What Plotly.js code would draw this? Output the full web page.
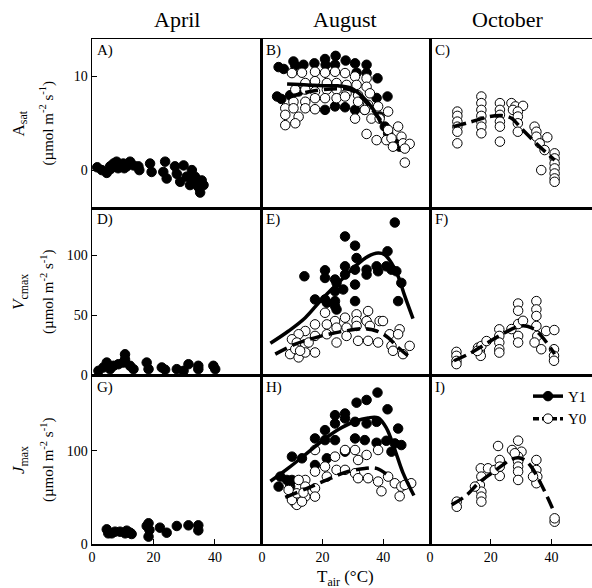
<!DOCTYPE html>
<html><head><meta charset="utf-8">
<script src="https://cdn.plot.ly/plotly-3.0.1.min.js"></script>
<style>html,body{margin:0;padding:0;background:#fff}#chart{width:592px;height:588px}
#chart text{font-family:"Liberation Serif","Times New Roman",Times,serif !important;}</style>
</head><body><div id="chart"></div>
<script>
// ---- labels ----
const months = ['April', 'August', 'October'];
const panelLabels = ['A)', 'B)', 'C)', 'D)', 'E)', 'F)', 'G)', 'H)', 'I)'];
const rowTitles = ['A<sub>sat</sub>', '<i>V</i><sub>cmax</sub>', '<i>J</i><sub>max</sub>'];
const unitTitle = '(µmol m<sup>-2</sup> s<sup>-1</sup>)';
const xTitle = 'T<sub>air</sub> (°C)';
const xTicks = [0, 20, 40];
const rowTicks = [[0, 10], [0, 50, 100], [0, 100]];

// ---- Panel A (April, Asat, Y1) ----
const A_Y1_x = [1.7,3.2,4.8,5.9,7.0,8.0,9.1,10.2,11.3,12.4,13.5,15.1,15.4,18.9,19.4,23.8,23.2,24.3,27.0,27.6,28.7,29.8,30.8,32.5,33.0,31.9,33.5,35.7,36.3,35.2,34.6,6.0,8.5,10.5];
const A_Y1_y = [0.3,0,-0.3,0.4,0.7,0.9,0.5,0.7,0.4,0.9,0.5,0.4,0,0.7,-0.2,0.9,-0.2,-0.9,0.4,-0.4,-1.25,0.5,-0.7,0,-1.1,-1.6,-0.7,-1.1,-1.6,-2.4,-1.8,0.1,0.2,0.2];

// ---- Panel B (August, Asat) ----
const B_Y1_x = [5.5,7.2,10.4,11.0,13.7,17.3,20.8,21.0,24.3,24.1,27.6,30.7,31.2,34.5,34.5,38.1,5.0,6.4,9.3,12.1,20.8,24.1,27.4,30.7,33.9,37.8,41.4,38.8,40.5,41.6,43.8,45.4];
const B_Y1_y = [11.0,10.8,11.6,11.15,11.25,11.4,11.86,11.25,12.2,11.25,11.7,11.4,10.4,11.25,10.36,9.8,7.86,7.6,8.0,8.4,6.43,6.8,6.71,6.43,6.43,7.7,7.86,5.72,4.65,3.93,2.86,2.5];
const B_Y0_x = [9.9,13.2,17.5,20.8,24.1,27.4,30.7,34.5,14.3,17.5,21.4,24.6,27.9,31.2,34.5,11.0,14.3,17.5,21.4,24.6,27.9,31.7,35.6,10.4,14.3,17.5,20.8,24.6,27.4,31.7,35.0,38.3,41.6,7.7,10.4,14.3,17.5,30.7,33.9,36.1,38.8,7.7,12.1,7.7,11.0,34.5,37.8,41.6,41.0,42.7,44.9,46.0,46.5,48.7,47.1,43.2,47.1];
const B_Y0_y = [10.36,10.4,10.5,10.4,10.5,10.36,10.0,9.8,9.3,9.5,9.3,9.3,9.1,9.1,8.9,8.6,8.6,8.4,8.6,8.6,8.2,8.0,8.2,7.3,7.3,7.68,7.68,7.68,7.86,7.3,6.97,6.8,6.25,6.6,6.6,6.6,6.5,5.5,6.43,5.5,5.5,5.9,5.7,4.8,5.0,3.86,3.2,4.29,3.2,3.4,4.65,3.57,2.86,2.8,2.3,2.5,0.8];
const B_Y1fit_x = [8.3,15,20,25,29,32,35,38,39.2];
const B_Y1fit_y = [9.2,9.1,9.0,9.0,8.8,8.2,7.2,5.8,5.0];
const B_Y0fit_x = [8.3,12,16,20,25,29,32,35,38,39.2];
const B_Y0fit_y = [7.7,8.1,8.4,8.6,8.7,8.6,8.0,7.0,5.8,5.3];

// ---- Panel C (October, Asat, Y0) ----
const C_Y0_x = [9,9,9,9,9,9,16.9,16.9,16.9,16.9,16.9,16.9,16.9,23,23,23,23,23,23,26.8,28.1,30.6,27.3,28.9,28.9,28.9,28.9,34.4,35.0,35.0,38.6,36.1,37.7,36.6,41,41,41,41,41,41,41];
const C_Y0_y = [6.25,5.79,5.18,4.64,4.1,2.86,7.86,7.15,6.43,5.79,5.18,4.64,3.93,7.15,6.43,5.9,5.18,4.64,3.04,7.15,6.8,6.86,6.43,6.25,5.72,5.0,4.1,4.64,4.1,3.57,3.5,2.86,2.14,0,1.79,1.25,0.71,0.18,-0.36,-0.89,-1.25];
const C_Y0fit_x = [7.65,12.6,19.7,23.5,26.8,30.0,35.5,41.0];
const C_Y0fit_y = [4.64,5.07,5.72,5.82,5.54,4.46,2.68,1.07];

// ---- Panel D (April, Vcmax, Y1) ----
const D_Y1_x = [2.1,3.7,4.8,5.9,7.0,8.6,10.2,10.75,10.75,12.4,13.5,17.8,18.4,22.7,23.8,27.6,29.8,31.4,34.6,34.6,39.5,40.1];
const D_Y1_y = [3.8,6.6,10.7,5.2,8.0,9.3,10.7,17.6,13.5,8.0,5.2,10.7,5.2,6.6,4.7,5.2,3.8,9.3,8.0,5.2,8.0,5.2];

// ---- Panel E (August, Vcmax) ----
const E_Y1_x = [43.8,27.4,30.7,31.2,14.0,20.8,20.8,24.1,24.6,27.4,27.4,30.7,34.5,34.5,37.8,38.3,41.4,41.0,42.7,44.3,45.95,24.1,26.8,30.7,17.5,20.8,21.4,24.1,24.6,30.7,44.9,24.1];
const E_Y1_y = [127.4,115.8,108.1,97.8,82.6,87.6,81.2,79.9,77.1,90.9,84.0,88.1,88.1,84.0,90.9,86.8,103.4,90.9,88.1,86.8,77.1,70.2,71.6,75.7,63.3,63.3,60.6,61.9,54.9,61.9,61.9,57.8];
const E_Y0_x = [20.8,24.1,27.4,31.2,35.0,31.2,34.5,38.8,39.9,17.5,21.4,24.6,27.9,31.2,35.6,14.3,12.1,9.9,11.5,14.3,17.5,21.4,24.6,27.9,31.7,35.0,38.3,42.1,45.4,44.9,42.7,48.7,46.5,43.2,9.3,12.1,14.3,17.5,11.0,12.6,15.4];
const E_Y0_y = [52.2,45.3,48.1,50.9,53.6,45.3,45.3,45.3,45.3,42.5,42.5,39.8,39.8,41.2,41.2,37.0,34.3,30.1,27.4,26.0,32.9,34.3,27.4,32.9,28.8,28.8,27.4,34.3,38.4,34.3,24.6,24.6,17.7,20.5,17.7,15.0,19.1,19.1,21.9,20.5,27.4];
const E_Y1fit_x = [2.8,8.8,14.3,19.7,26.3,30.7,35.0,38.3,40.5,42.7,44.9,47.1,49.8];
const E_Y1fit_y = [26.8,37.0,48.1,63.3,79.9,90.9,99.2,102.0,100.6,93.7,82.6,66.0,47.3];
const E_Y0fit_x = [4.4,11.0,19.7,27.4,33.9,37.8,41.6,44.9,48.2];
const E_Y0fit_y = [17.7,26.0,32.9,37.0,39.0,37.0,31.5,23.2,16.3];

// ---- Panel F (October, Vcmax, Y0) ----
const F_Y0_x = [8.7,8.7,8.7,8.7,15.8,16.4,16.7,16.9,18.6,15.6,22.8,22.8,22.8,22.8,22.8,29.0,29.0,29.0,29.0,29.0,30.6,26.8,35.0,35.0,35.0,35.0,35.3,34.4,36.6,38.2,40.9,40.8,40.8,40.8];
const F_Y0_y = [19.6,16.3,12.1,9.4,23.1,20.4,16.3,24.5,28.6,20.4,38.4,32.9,27.4,21.8,19.0,59.9,53.9,42.8,32.9,27.4,45.5,38.6,61.9,55.0,49.5,41.2,32.9,27.4,21.8,37.0,37.8,21.8,16.3,12.2];
const F_Y0fit_x = [7.9,12.6,19.1,24.6,30.0,33.3,36.6,41.0];
const F_Y0fit_y = [12.2,17.7,27.4,35.6,41.2,39.8,32.9,17.7];

// ---- Panel G (April, Jmax, Y1) ----
const G_Y1_x = [4.8,5.3,6.4,7.5,9.1,10.8,11.3,12.4,12.9,17.8,18.4,18.7,18.4,22.1,24.3,27.6,31.4,34.6,34.6];
const G_Y1_y = [15.7,11.4,11.4,13.2,13.2,11.4,14.3,12.1,10.7,19.3,22.2,15.0,7.9,17.5,12.1,19.3,20.0,20.0,14.6];

// ---- Panel H (August, Jmax) ----
const H_Y1_x = [38.1,34.5,31.2,41.4,27.4,24.1,24.1,27.4,30.7,34.5,37.8,20.8,17.5,20.8,24.1,30.7,33.9,37.8,41.0,44.9,43.8,45.95,42.7,17.5,21.4,27.4,9.9,13.2,6.1,8.25,9.9,5.5,9.3];
const H_Y1_y = [162.2,154.3,151.4,144.3,139.8,138.0,129.1,134.5,130.9,129.1,130.9,122.0,113.1,111.3,111.3,113.1,111.3,108.5,110.6,123.7,107.8,106.0,98.9,84.6,91.8,98.9,93.6,91.8,72.2,68.6,68.6,61.5,61.5];
const H_Y0_x = [17.5,24.1,27.4,30.7,34.5,38.3,31.7,17.5,20.8,21.4,24.6,27.4,30.7,31.7,35.0,38.3,41.6,43.8,45.95,49.2,47.1,39.4,45.4,14.3,12.1,14.3,17.5,17.5,14.3,12.1,11.0,11.5,13.2,9.9,11.5,8.8,13.7];
const H_Y0_y = [100.7,93.6,100.7,100.7,95.4,100.7,90.0,77.6,83.0,72.2,79.4,79.4,75.8,70.5,70.5,66.9,72.2,65.1,61.5,65.1,63.3,56.5,51.1,68.6,68.6,61.5,59.7,50.8,50.8,45.4,43.6,41.9,45.4,47.2,54.3,57.9,55.0];
const H_Y1fit_x = [2.8,8.8,14.3,19.7,25.2,30.7,35.0,38.3,41.0,43.8,46.5,50.1];
const H_Y1fit_y = [67.2,81.5,95.8,110.1,122.6,131.5,135.1,135.1,124.4,101.2,76.2,51.9];
const H_Y0fit_x = [7.7,14.3,20.8,27.4,33.9,37.8,41.0];
const H_Y0fit_y = [49.9,58.8,67.8,76.7,81.0,81.0,74.9];

// ---- Panel I (October, Jmax, Y0) ----
const I_Y0_x = [8.8,8.8,16.7,16.9,16.4,16.9,16.9,16.9,19.1,14.8,22.4,22.95,22.95,21.3,22.95,29.0,27.0,30.1,29.0,29.0,29.0,29.0,29.0,27.9,35.0,35.0,35.3,35.0,33.9,41.0,41.0];
const I_Y0_y = [45.4,39.9,81.1,72.2,63.3,56.1,50.8,45.4,81.1,61.5,105.0,90.0,72.9,79.3,82.9,110.7,100.7,98.9,93.6,88.3,82.9,77.6,68.6,97.2,90.0,79.3,72.2,65.1,72.2,23.9,27.5];
const I_Y0fit_x = [7.1,12.1,15.9,20.2,24.0,26.2,29.0,31.2,33.3,36.1,38.8,41.0];
const I_Y0fit_y = [41.9,52.5,65.1,75.8,84.7,90.0,92.5,90.0,82.9,66.9,49.0,32.9];

// ---- build ----
const FONT = '"Liberation Serif", "Times New Roman", Times, serif';
const colDom = [[0, 0.338], [0.338, 0.676], [0.676, 1]];
const colRange = [[0, 55], [-0.3, 55.4], [0, 53.3]];
const rowDom = [[0.6653, 1], [0.3327, 0.6653], [0, 0.3327]];
const rowRange = [[-4.05, 14], [-0.5, 139.5], [0, 180]];

function ax(p, k) { return p === 1 ? k : k + p; }
const traces = [];
function pts(p, x, y, filled) {
  traces.push({type: 'scatter', mode: 'markers', x: x, y: y, xaxis: ax(p, 'x'), yaxis: ax(p, 'y'), showlegend: false,
    marker: {size: 9.5, color: filled ? '#000' : '#fff', line: {color: '#000', width: 1}}, hoverinfo: 'skip'});
}
function fit(p, x, y, dashed) {
  traces.push({type: 'scatter', mode: 'lines', x: x, y: y, xaxis: ax(p, 'x'), yaxis: ax(p, 'y'), showlegend: false,
    line: {color: '#000', width: 3.5, shape: 'spline', smoothing: 1, dash: dashed ? '13px,6px' : 'solid'}, hoverinfo: 'skip'});
}
pts(1, A_Y1_x, A_Y1_y, true);
pts(2, B_Y1_x, B_Y1_y, true); pts(2, B_Y0_x, B_Y0_y, false);
fit(2, B_Y1fit_x, B_Y1fit_y, false); fit(2, B_Y0fit_x, B_Y0fit_y, true);
pts(3, C_Y0_x, C_Y0_y, false); fit(3, C_Y0fit_x, C_Y0fit_y, true);
pts(4, D_Y1_x, D_Y1_y, true);
pts(5, E_Y1_x, E_Y1_y, true); pts(5, E_Y0_x, E_Y0_y, false);
fit(5, E_Y1fit_x, E_Y1fit_y, false); fit(5, E_Y0fit_x, E_Y0fit_y, true);
pts(6, F_Y0_x, F_Y0_y, false); fit(6, F_Y0fit_x, F_Y0fit_y, true);
pts(7, G_Y1_x, G_Y1_y, true);
pts(8, H_Y1_x, H_Y1_y, true); pts(8, H_Y0_x, H_Y0_y, false);
fit(8, H_Y1fit_x, H_Y1fit_y, false); fit(8, H_Y0fit_x, H_Y0fit_y, true);
pts(9, I_Y0_x, I_Y0_y, false); fit(9, I_Y0fit_x, I_Y0fit_y, true);

// legend entries
traces.push({type: 'scatter', mode: 'lines+markers', name: 'Y1', x: [null], y: [null], xaxis: 'x9', yaxis: 'y9',
  marker: {size: 9.5, color: '#000', line: {color: '#000', width: 1}}, line: {color: '#000', width: 3.5}});
traces.push({type: 'scatter', mode: 'lines+markers', name: 'Y0', x: [null], y: [null], xaxis: 'x9', yaxis: 'y9',
  marker: {size: 9.5, color: '#fff', line: {color: '#000', width: 1}}, line: {color: '#000', width: 3.5, dash: '6px,3px'}});

const layout = {
  width: 592, height: 588, margin: {l: 92, r: 0, t: 39, b: 44},
  paper_bgcolor: '#fff', plot_bgcolor: '#fff',
  font: {family: FONT, size: 14, color: '#000'},
  showlegend: true,
  legend: {x: 0.872, y: 0.325, xanchor: 'left', yanchor: 'top', bgcolor: 'rgba(0,0,0,0)', font: {family: FONT, size: 15}, tracegroupgap: 0},
  annotations: []
};
for (let p = 1; p <= 9; p++) {
  const r = Math.floor((p - 1) / 3), c = (p - 1) % 3;
  layout[p === 1 ? 'xaxis' : 'xaxis' + p] = {
    domain: colDom[c], range: colRange[c], anchor: ax(p, 'y'),
    showline: true, mirror: true, linecolor: '#000', linewidth: 1.5, showgrid: false, zeroline: false,
    ticks: r === 2 ? 'inside' : '', ticklen: 5, tickwidth: 1, tickcolor: '#000',
    showticklabels: r === 2, tickmode: 'array', tickvals: xTicks, ticktext: xTicks.map(String),
    tickfont: {family: FONT, size: 14}
  };
  layout[p === 1 ? 'yaxis' : 'yaxis' + p] = {
    domain: rowDom[r], range: rowRange[r], anchor: ax(p, 'x'),
    showline: true, mirror: true, linecolor: '#000', linewidth: 1.5, showgrid: false, zeroline: false,
    ticks: c === 0 ? 'inside' : '', ticklen: 5, tickwidth: 1, tickcolor: '#000',
    showticklabels: c === 0, tickmode: 'array', tickvals: rowTicks[r], ticktext: rowTicks[r].map(String),
    tickfont: {family: FONT, size: 14}
  };
  layout.annotations.push({text: panelLabels[p - 1], xref: ax(p, 'x') + ' domain', yref: ax(p, 'y') + ' domain',
    x: 0.02, y: 0.995, xanchor: 'left', yanchor: 'top', showarrow: false, font: {family: FONT, size: 15}});
}
const monthX = [0.17, 0.506, 0.832];
months.forEach((m, i) => layout.annotations.push({text: m, xref: 'paper', yref: 'paper', x: monthX[i], y: 1.038,
  xanchor: 'center', yanchor: 'middle', showarrow: false, font: {family: FONT, size: 22}}));
const rowCenters = [0.8327, 0.499, 0.1663];
rowTitles.forEach((t, i) => {
  layout.annotations.push({text: t, xref: 'paper', yref: 'paper', x: -0.144, y: rowCenters[i], xanchor: 'center', yanchor: 'middle',
    textangle: -90, showarrow: false, font: {family: FONT, size: 17}});
  layout.annotations.push({text: unitTitle, xref: 'paper', yref: 'paper', x: -0.09, y: rowCenters[i], xanchor: 'center', yanchor: 'middle',
    textangle: -90, showarrow: false, font: {family: FONT, size: 15}});
});
layout.annotations.push({text: xTitle, xref: 'paper', yref: 'paper', x: 0.507, y: -0.067, xanchor: 'center', yanchor: 'middle',
  showarrow: false, font: {family: FONT, size: 17}});

Plotly.newPlot('chart', traces, layout, {staticPlot: true, displayModeBar: false});
</script>
</body></html>
